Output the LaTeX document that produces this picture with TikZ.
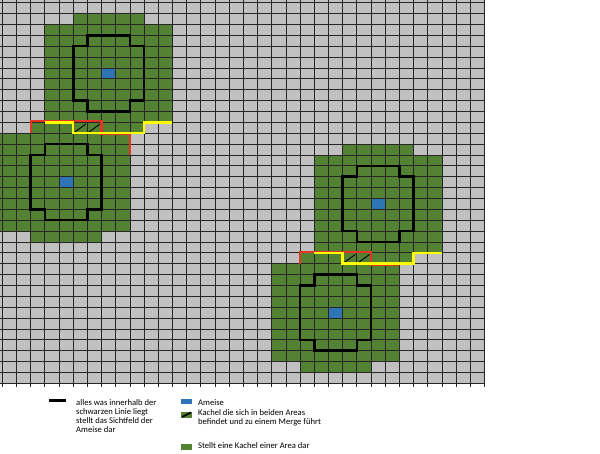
\documentclass[tikz,border=0pt]{standalone}
\usepackage{fontspec}
\setmainfont{Carlito}
\usepackage{tikz}
\usepackage{xcolor}
\definecolor{cellgray}{HTML}{C0C0C0}
\definecolor{areagreen}{HTML}{548235}
\definecolor{antblue}{HTML}{2E75B6}
\definecolor{mergered}{HTML}{E33424}
\definecolor{mergeyellow}{HTML}{FFFF00}

\begin{document}
\begin{tikzpicture}[x=1pt,y=-1pt,
  gridline/.style={line width=0.7pt,black!85},
  sichtfeld/.style={line width=2.6pt},
  redline/.style={line width=2.2pt,mergered},
  yellowline/.style={line width=2.4pt,mergeyellow},
  legendtext/.style={anchor=north west,inner sep=0pt,align=left,font=\fontsize{8.6}{9}\selectfont}]
\useasboundingbox (0,0) rectangle (600,454);
\begin{scope}[shift={(2.3,2.7)},x=14.18pt,y=-10.875pt]
\fill[cellgray] (-0.17,-0.25) rectangle (34,35.1);
\fill[areagreen] (5,1) rectangle (10,2);
\fill[areagreen] (3,2) rectangle (12,11);
\fill[areagreen] (5,11) rectangle (10,12);
\fill[areagreen] (2,11) rectangle (7,12);
\fill[areagreen] (-0.17,12) rectangle (9,21);
\fill[areagreen] (2,21) rectangle (7,22);
\fill[areagreen] (24,13) rectangle (29,14);
\fill[areagreen] (22,14) rectangle (31,23);
\fill[areagreen] (24,23) rectangle (29,24);
\fill[areagreen] (21,23) rectangle (26,24);
\fill[areagreen] (19,24) rectangle (28,33);
\fill[areagreen] (21,33) rectangle (26,34);
\fill[antblue] (7,6) rectangle (8,7);
\fill[antblue] (4,16) rectangle (5,17);
\fill[antblue] (26,18) rectangle (27,19);
\fill[antblue] (23,28) rectangle (24,29);
\foreach \c in {0,...,34} \draw[gridline] (\c,-0.25) -- (\c,35.35);
\foreach \r in {0,...,35} \draw[gridline] (-0.17,\r) -- (34,\r);
\draw[line width=0.9pt] (5.1,11.9) -- (5.9,11.15);
\draw[line width=0.9pt] (6.1,11.9) -- (6.9,11.15);
\draw[line width=0.9pt] (24.1,23.9) -- (24.9,23.15);
\draw[line width=0.9pt] (25.1,23.9) -- (25.9,23.15);
\draw[sichtfeld] (6,3) -- (9,3) -- (9,4) -- (10,4) -- (10,9) -- (9,9) -- (9,10) -- (6,10) -- (6,9) -- (5,9) -- (5,4) -- (6,4) -- cycle;
\draw[sichtfeld] (3,13) -- (6,13) -- (6,14) -- (7,14) -- (7,19) -- (6,19) -- (6,20) -- (3,20) -- (3,19) -- (2,19) -- (2,14) -- (3,14) -- cycle;
\draw[sichtfeld] (25,15) -- (28,15) -- (28,16) -- (29,16) -- (29,21) -- (28,21) -- (28,22) -- (25,22) -- (25,21) -- (24,21) -- (24,16) -- (25,16) -- cycle;
\draw[sichtfeld] (22,25) -- (25,25) -- (25,26) -- (26,26) -- (26,31) -- (25,31) -- (25,32) -- (22,32) -- (22,31) -- (21,31) -- (21,26) -- (22,26) -- cycle;
\draw[redline] (2,12) -- (2,10.9) -- (7,10.9) -- (7,12.1) -- (9,12.1) -- (9,14);
\draw[yellowline] (3,11) -- (5,11) -- (5,12) -- (10,12) -- (10,11) -- (12,11);
\draw[redline] (21,24) -- (21,22.9) -- (26,22.9) -- (26,24.1) -- (28,24.1);
\draw[yellowline] (22,23) -- (24,23) -- (24,24) -- (29,24) -- (29,23) -- (31,23);
\end{scope}
\draw[line width=2.5pt] (48.5,400.5) -- (66,400.5);
\node[legendtext] (sichtfeldtext) at (76,399) {alles was innerhalb der\\schwarzen Linie liegt\\stellt das Sichtfeld der\\Ameise dar};
\fill[antblue] (181,398.5) rectangle (192,403.5);
\node[legendtext] (ameisetext) at (198,399) {Ameise};
\fill[areagreen] (181,412) rectangle (192,417.5);
\draw[line width=1.6pt] (182,417) -- (191,412.5);
\node[legendtext] (mergetext) at (198,409.5) {Kachel die sich in beiden Areas\\befindet und zu einem Merge führt};
\fill[areagreen] (181,444) rectangle (192,449.5);
\node[legendtext] (areatext) at (198,442.5) {Stellt eine Kachel einer Area dar};
\end{tikzpicture}
\end{document}
